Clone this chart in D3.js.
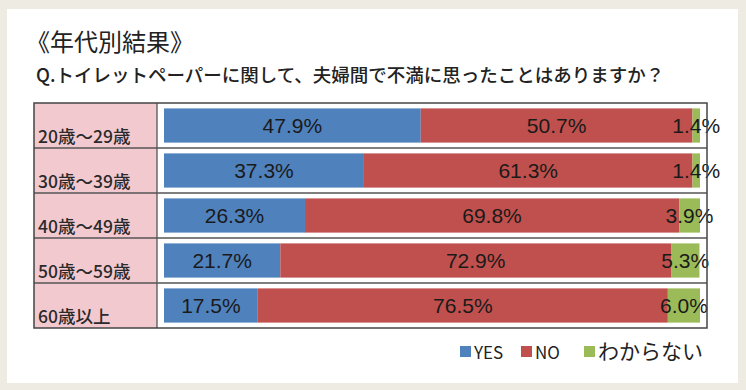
<!DOCTYPE html>
<html>
<head>
<meta charset="utf-8">
<script src="https://cdn.jsdelivr.net/npm/d3@7"></script>
<style>
  body { margin: 0; background: #eeebe2; }
  text { font-family: "Liberation Sans", Arial, sans-serif; }
  .jp { font-family: "Noto Sans CJK JP", sans-serif; }
</style>
</head>
<body>
<div id="chart"></div>
<script>
// data ------------------------------------------------------------------
var ages = ["20歳～29歳", "30歳～39歳", "40歳～49歳", "50歳～59歳", "60歳以上"];
var yes  = [47.9, 37.3, 26.3, 21.7, 17.5];
var no   = [50.7, 61.3, 69.8, 72.9, 76.5];
var dk   = [1.4, 1.4, 3.9, 5.3, 6.0];
var seriesNames = ["YES", "NO", "わからない"];
var colors = ["#4f81bd", "#c0504d", "#9bbb59"];

var W = 746, H = 390;

var svg = d3.select("#chart").append("svg")
    .attr("width", W)
    .attr("height", H);

// card
svg.append("rect")
    .attr("x", 7).attr("y", 9)
    .attr("width", 731).attr("height", 374)
    .attr("fill", "#ffffff");

svg.append("text")
    .attr("class", "jp")
    .attr("x", 26).attr("y", 51)
    .attr("font-size", 24)
    .attr("fill", "#222")
    .text("《年代別結果》");

svg.append("text")
    .attr("class", "jp")
    .attr("x", 36).attr("y", 82)
    .attr("font-size", 18.5)
    .attr("font-weight", 500)
    .attr("fill", "#222")
    .text("Q.トイレットペーパーに関して、夫婦間で不満に思ったことはありますか？");

// table frame -----------------------------------------------------------
var frame = {left: 34, right: 707, top: 103, bottom: 328, labelRight: 157};

var y = d3.scaleBand()
    .domain(ages)
    .range([frame.top, frame.bottom])
    .paddingInner(0.24)
    .paddingOuter(0.12);

var rowH = (frame.bottom - frame.top) / ages.length;

var x = d3.scaleLinear()
    .domain([0, 100])
    .range([164, 700]);

svg.append("rect")
    .attr("x", frame.left).attr("y", frame.top)
    .attr("width", frame.labelRight - frame.left)
    .attr("height", frame.bottom - frame.top)
    .attr("fill", "#f3c9d0");

var rows = ages.map(function(a, i) {
  return {age: a, vals: [yes[i], no[i], dk[i]]};
});

// stacked segments
var stackData = rows.map(function(r) {
  var acc = 0;
  return r.vals.map(function(v, k) {
    var s = {age: r.age, k: k, v: v, x0: acc, x1: acc + v};
    acc += v;
    return s;
  });
});

var g = svg.append("g");

g.selectAll("g.row")
    .data(stackData)
  .enter().append("g")
    .attr("class", "row")
  .selectAll("rect")
    .data(function(d) { return d; })
  .enter().append("rect")
    .attr("x", function(d) { return x(d.x0); })
    .attr("width", function(d) { return x(d.x1) - x(d.x0); })
    .attr("y", function(d) { return y(d.age); })
    .attr("height", y.bandwidth())
    .attr("fill", function(d) { return colors[d.k]; });

// value labels
g.selectAll("g.row")
  .selectAll("text")
    .data(function(d) { return d; })
  .enter().append("text")
    .attr("x", function(d) { return (x(d.x0) + x(d.x1)) / 2; })
    .attr("y", function(d) { return y(d.age) + y.bandwidth() / 2 + 7.5; })
    .attr("text-anchor", "middle")
    .attr("font-size", 21)
    .attr("fill", "#1a1a1a")
    .text(function(d) { return d.v.toFixed(1) + "%"; });

// row separators + frame
svg.append("g")
  .selectAll("line")
    .data(d3.range(1, ages.length))
  .enter().append("line")
    .attr("x1", frame.left).attr("x2", frame.right)
    .attr("y1", function(i) { return frame.top + i * rowH; })
    .attr("y2", function(i) { return frame.top + i * rowH; })
    .attr("stroke", "#555")
    .attr("stroke-width", 1.3);

svg.append("line")
    .attr("x1", frame.labelRight).attr("x2", frame.labelRight)
    .attr("y1", frame.top).attr("y2", frame.bottom)
    .attr("stroke", "#555")
    .attr("stroke-width", 1.3);

svg.append("rect")
    .attr("x", frame.left).attr("y", frame.top)
    .attr("width", frame.right - frame.left)
    .attr("height", frame.bottom - frame.top)
    .attr("fill", "none")
    .attr("stroke", "#444")
    .attr("stroke-width", 1.5);

// row labels
svg.append("g")
  .selectAll("text")
    .data(ages)
  .enter().append("text")
    .attr("class", "jp")
    .attr("x", 38)
    .attr("y", function(d, i) { return frame.top + (i + 1) * rowH - 5; })
    .attr("font-size", 17.5)
    .attr("font-weight", 500)
    .attr("fill", "#2a2a2a")
    .text(function(d) { return d; });

// legend
var legendX = [460, 521, 584];
var leg = svg.append("g").selectAll("g")
    .data(seriesNames)
  .enter().append("g")
    .attr("transform", function(d, i) { return "translate(" + legendX[i] + ",0)"; });

leg.append("rect")
    .attr("x", 0).attr("y", 346)
    .attr("width", 11).attr("height", 11)
    .attr("fill", function(d, i) { return colors[i]; });

leg.append("text")
    .attr("class", "jp")
    .attr("x", 14)
    .attr("y", 359)
    .attr("font-size", function(d, i) { return i == 2 ? 21 : 17; })
    .attr("fill", "#222")
    .text(function(d) { return d; });
</script>
</body>
</html>
